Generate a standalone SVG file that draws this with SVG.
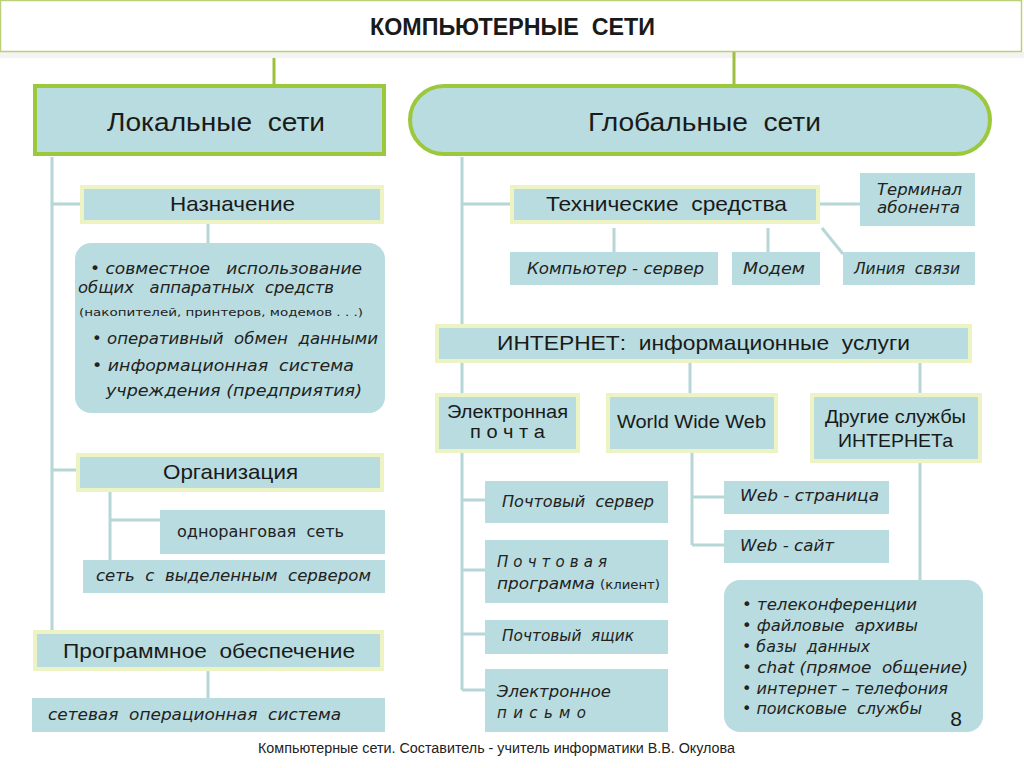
<svg xmlns="http://www.w3.org/2000/svg" width="1024" height="768" viewBox="0 0 1024 768" xml:space="preserve">
<style>
.box{fill:#b8dcdf}
.glow{fill:#b8dcdf;stroke:#eef3c4;stroke-width:4}
.main{fill:#b8dcdf;stroke:#9cc83c;stroke-width:4}
.ln{stroke:#b6d6d8;stroke-width:3;fill:none}
.gl{stroke:#9cbf3f;stroke-width:3;fill:none}
text{white-space:pre}
.h{font-family:"Liberation Sans",Arial,sans-serif;fill:#1a1a1a}
.i{font-family:"DejaVu Sans","Liberation Sans",sans-serif;font-style:italic;fill:#222}
.r{font-family:"DejaVu Sans","Liberation Sans",sans-serif;fill:#222}
.f{font-family:"Liberation Sans",Arial,sans-serif;fill:#222}
</style>
<rect x="0" y="0" width="1024" height="768" fill="#ffffff"/>
<rect x="0" y="52" width="1024" height="6" fill="#f3f4f2"/>
<g id="title">
<rect x="0.5" y="0.5" width="1021" height="51" fill="#ffffff" stroke="#bccf7a" stroke-width="1.5"/>
<text x="370" y="35" class="h" font-size="23" font-weight="bold" textLength="285" lengthAdjust="spacingAndGlyphs">КОМПЬЮТЕРНЫЕ  СЕТИ</text>
</g>
<g id="connectors">
<line class="gl" x1="274" y1="58" x2="274" y2="85"/>
<line class="gl" x1="734" y1="52" x2="734" y2="85"/>
<line class="ln" x1="52" y1="157" x2="52" y2="630"/>
<line class="ln" x1="52" y1="204" x2="82" y2="204"/>
<line class="ln" x1="52" y1="470" x2="78" y2="470"/>
<line class="ln" x1="208" y1="223" x2="208" y2="243"/>
<line class="ln" x1="110" y1="491" x2="110" y2="560"/>
<line class="ln" x1="110" y1="520" x2="160" y2="520"/>
<line class="ln" x1="208" y1="670" x2="208" y2="698"/>
<line class="ln" x1="462" y1="157" x2="462" y2="325"/>
<line class="ln" x1="462" y1="204" x2="512" y2="204"/>
<line class="ln" x1="819" y1="204" x2="860" y2="204"/>
<line class="ln" x1="614" y1="228" x2="614" y2="252"/>
<line class="ln" x1="768" y1="228" x2="768" y2="252"/>
<line class="ln" x1="822" y1="228" x2="843" y2="254"/>
<line class="ln" x1="462" y1="362" x2="462" y2="395"/>
<line class="ln" x1="690" y1="362" x2="690" y2="395"/>
<line class="ln" x1="920" y1="362" x2="920" y2="395"/>
<line class="ln" x1="462" y1="452" x2="462" y2="690"/>
<line class="ln" x1="462" y1="500" x2="485" y2="500"/>
<line class="ln" x1="462" y1="570" x2="485" y2="570"/>
<line class="ln" x1="462" y1="634" x2="485" y2="634"/>
<line class="ln" x1="462" y1="690" x2="485" y2="690"/>
<line class="ln" x1="692" y1="452" x2="692" y2="545"/>
<line class="ln" x1="692" y1="497" x2="724" y2="497"/>
<line class="ln" x1="692" y1="545" x2="724" y2="545"/>
<line class="ln" x1="920" y1="462" x2="920" y2="580"/>
</g>
<g id="local">
<rect class="main" x="35" y="86" width="349" height="68"/>
<text x="107" y="131" class="h" font-size="26" textLength="218" lengthAdjust="spacingAndGlyphs">Локальные  сети</text>
</g>
<g id="global">
<rect class="main" x="410" y="86" width="580" height="68" rx="34"/>
<text x="588" y="131" class="h" font-size="26" textLength="233" lengthAdjust="spacingAndGlyphs">Глобальные  сети</text>
</g>
<g id="naznachenie">
<rect class="glow" x="82" y="187" width="300" height="35"/>
<text x="170" y="211" class="h" font-size="21" textLength="125" lengthAdjust="spacingAndGlyphs">Назначение</text>
</g>
<g id="naznachenie-list">
<rect class="box" x="75" y="243" width="310" height="170" rx="16"/>
<text x="90" y="274" class="i" font-size="15" textLength="272" lengthAdjust="spacingAndGlyphs">• совместное   использование</text>
<text x="78" y="293" class="i" font-size="15" textLength="256" lengthAdjust="spacingAndGlyphs">общих   аппаратных  средств</text>
<text x="79" y="316" class="r" font-size="11" textLength="284" lengthAdjust="spacingAndGlyphs">(накопителей, принтеров, модемов . . .)</text>
<text x="92" y="344" class="i" font-size="15" textLength="286" lengthAdjust="spacingAndGlyphs">• оперативный  обмен  данными</text>
<text x="92" y="371" class="i" font-size="15" textLength="262" lengthAdjust="spacingAndGlyphs">• информационная  система</text>
<text x="106" y="396" class="i" font-size="15" textLength="256" lengthAdjust="spacingAndGlyphs">учреждения (предприятия)</text>
</g>
<g id="organizaciya">
<rect class="glow" x="78" y="455" width="304" height="35"/>
<text x="163" y="479" class="h" font-size="21" textLength="135" lengthAdjust="spacingAndGlyphs">Организация</text>
</g>
<g id="peer">
<rect class="box" x="160" y="510" width="225" height="44"/>
<text x="177" y="537" class="r" font-size="15" textLength="167" lengthAdjust="spacingAndGlyphs">одноранговая  сеть</text>
</g>
<g id="server-net">
<rect class="box" x="83" y="560" width="302" height="33"/>
<text x="96" y="581" class="i" font-size="15" textLength="275" lengthAdjust="spacingAndGlyphs">сеть  с  выделенным  сервером</text>
</g>
<g id="software">
<rect class="glow" x="35" y="632" width="347" height="37"/>
<text x="63" y="658" class="h" font-size="21" textLength="292" lengthAdjust="spacingAndGlyphs">Программное  обеспечение</text>
</g>
<g id="nos">
<rect class="box" x="32" y="698" width="353" height="34"/>
<text x="48" y="720" class="i" font-size="15" textLength="293" lengthAdjust="spacingAndGlyphs">сетевая  операционная  система</text>
</g>
<g id="tech">
<rect class="glow" x="512" y="187" width="306" height="35"/>
<text x="546" y="211" class="h" font-size="21" textLength="241" lengthAdjust="spacingAndGlyphs">Технические  средства</text>
</g>
<g id="terminal">
<rect class="box" x="860" y="173" width="115" height="53"/>
<text x="877" y="195" class="i" font-size="15" textLength="85" lengthAdjust="spacingAndGlyphs">Терминал</text>
<text x="877" y="213" class="i" font-size="15" textLength="83" lengthAdjust="spacingAndGlyphs">абонента</text>
</g>
<g id="computer">
<rect class="box" x="510" y="252" width="208" height="33"/>
<text x="527" y="274" class="i" font-size="15" textLength="177" lengthAdjust="spacingAndGlyphs">Компьютер - сервер</text>
</g>
<g id="modem">
<rect class="box" x="732" y="252" width="88" height="33"/>
<text x="743" y="274" class="i" font-size="15" textLength="62" lengthAdjust="spacingAndGlyphs">Модем</text>
</g>
<g id="line">
<rect class="box" x="843" y="252" width="132" height="33"/>
<text x="854" y="274" class="i" font-size="15" textLength="106" lengthAdjust="spacingAndGlyphs">Линия  связи</text>
</g>
<g id="internet">
<rect class="glow" x="437" y="326" width="533" height="35"/>
<text x="497" y="350" class="h" font-size="21" textLength="413" lengthAdjust="spacingAndGlyphs">ИНТЕРНЕТ:  информационные  услуги</text>
</g>
<g id="email">
<rect class="glow" x="437" y="395" width="141" height="56"/>
<text x="447" y="418" class="h" font-size="18" textLength="121" lengthAdjust="spacingAndGlyphs">Электронная</text>
<text x="470" y="438" class="h" font-size="18" textLength="75" lengthAdjust="spacingAndGlyphs">п о ч т а</text>
</g>
<g id="www">
<rect class="glow" x="608" y="395" width="168" height="56"/>
<text x="617" y="428" class="h" font-size="19" textLength="149" lengthAdjust="spacingAndGlyphs">World Wide Web</text>
</g>
<g id="other">
<rect class="glow" x="812" y="395" width="168" height="66"/>
<text x="825" y="423" class="h" font-size="19" textLength="141" lengthAdjust="spacingAndGlyphs">Другие службы</text>
<text x="838" y="447" class="h" font-size="19" textLength="115" lengthAdjust="spacingAndGlyphs">ИНТЕРНЕТа</text>
</g>
<g id="mail-server">
<rect class="box" x="485" y="481" width="183" height="42"/>
<text x="502" y="507" class="i" font-size="15" textLength="152" lengthAdjust="spacingAndGlyphs">Почтовый  сервер</text>
</g>
<g id="mail-client">
<rect class="box" x="485" y="540" width="183" height="63"/>
<text x="497" y="567" class="i" font-size="15" textLength="110" lengthAdjust="spacing">П о ч т о в а я</text>
<text x="497" y="589" class="i" font-size="15" textLength="98" lengthAdjust="spacingAndGlyphs">программа</text>
<text x="600" y="589" class="r" font-size="11.5" textLength="60" lengthAdjust="spacingAndGlyphs">(клиент)</text>
</g>
<g id="mailbox">
<rect class="box" x="485" y="620" width="183" height="34"/>
<text x="502" y="641" class="i" font-size="15" textLength="132" lengthAdjust="spacingAndGlyphs">Почтовый  ящик</text>
</g>
<g id="letter">
<rect class="box" x="485" y="669" width="183" height="63"/>
<text x="497" y="697" class="i" font-size="15" textLength="114" lengthAdjust="spacingAndGlyphs">Электронное</text>
<text x="497" y="718" class="i" font-size="15" textLength="89" lengthAdjust="spacing">п и с ь м о</text>
</g>
<g id="web-page">
<rect class="box" x="724" y="481" width="165" height="33"/>
<text x="740" y="501" class="i" font-size="15" textLength="139" lengthAdjust="spacingAndGlyphs">Web - страница</text>
</g>
<g id="web-site">
<rect class="box" x="724" y="530" width="165" height="33"/>
<text x="740" y="551" class="i" font-size="15" textLength="94" lengthAdjust="spacingAndGlyphs">Web - сайт</text>
</g>
<g id="services">
<rect class="box" x="724" y="580" width="259" height="152" rx="16"/>
<text x="742" y="610" class="i" font-size="15" textLength="175" lengthAdjust="spacingAndGlyphs">• телеконференции</text>
<text x="742" y="631" class="i" font-size="15" textLength="176" lengthAdjust="spacingAndGlyphs">• файловые  архивы</text>
<text x="742" y="652" class="i" font-size="15" textLength="128" lengthAdjust="spacingAndGlyphs">• базы  данных</text>
<text x="742" y="673" class="i" font-size="15" textLength="226" lengthAdjust="spacingAndGlyphs">• chat (прямое  общение)</text>
<text x="742" y="694" class="i" font-size="15" textLength="206" lengthAdjust="spacingAndGlyphs">• интернет – телефония</text>
<text x="742" y="714" class="i" font-size="15" textLength="180" lengthAdjust="spacingAndGlyphs">• поисковые  службы</text>
<text x="956" y="726" text-anchor="middle" class="h" font-size="21">8</text>
</g>
<g id="footer">
<text x="258" y="753" class="f" font-size="14" textLength="477" lengthAdjust="spacingAndGlyphs">Компьютерные сети. Составитель - учитель информатики В.В. Окулова</text>
</g>
</svg>
